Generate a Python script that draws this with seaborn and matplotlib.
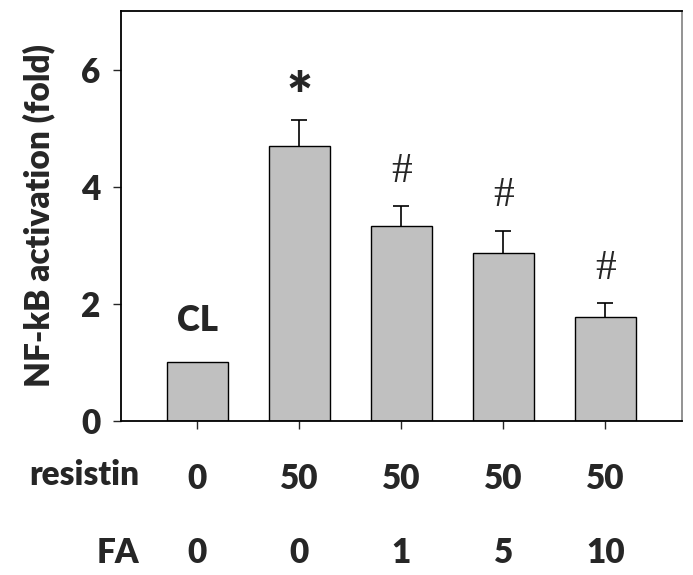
import matplotlib
matplotlib.use("Agg")
import matplotlib.pyplot as plt
import matplotlib.transforms as mtransforms
import seaborn as sns
import pandas as pd

# data
groups = ["CL", "R50", "R50+FA1", "R50+FA5", "R50+FA10"]
resistin = ["0", "50", "50", "50", "50"]
fa = ["0", "0", "1", "5", "10"]
activation = [1.00, 4.70, 3.33, 2.87, 1.77]
sem = [0.0, 0.44, 0.34, 0.38, 0.24]
marks = ["CL", "*", "#", "#", "#"]

df = pd.DataFrame({"group": groups, "activation": activation, "sem": sem})

sns.set_style("white")
plt.rcParams["font.family"] = ["Lato", "DejaVu Sans"]
plt.rcParams["font.weight"] = "heavy"

FS = 24

fig = plt.figure(figsize=(6.93, 5.75), dpi=100)
ax = fig.add_axes([0.1746, 0.2678, 0.8094, 0.7132])

sns.barplot(data=df, x="group", y="activation", order=groups,
            color="#c0c0c0", edgecolor="black", linewidth=1.0,
            width=0.6, saturation=1, ax=ax)

# upper error bars only, skip the control (no spread shown)
df["pos"] = range(len(groups))
eb = df[df["sem"] > 0]
_, caps, _ = ax.errorbar(eb["pos"], eb["activation"],
                         yerr=[[0] * len(eb), eb["sem"]],
                         fmt="none", ecolor="black", elinewidth=1.2,
                         capsize=5.5, capthick=1.2)
caps[0].set_visible(False)

# significance marks above each bar
for i, (m, a, s) in enumerate(zip(marks, activation, sem)):
    top = a + s
    if m == "CL":
        ax.annotate(m, (i, top), xytext=(0, 30), textcoords="offset points",
                    ha="center", va="center", fontsize=25, fontweight="heavy")
    elif m == "*":
        ax.annotate(m, (i, top), xytext=(0, 15), textcoords="offset points",
                    ha="center", va="center", fontsize=44, fontweight="heavy")
    else:
        ax.annotate(m, (i, top), xytext=(0, 25), textcoords="offset points",
                    ha="center", va="center", fontsize=30,
                    family="Liberation Serif", fontweight="normal")

ax.set_xlim(-0.75, 4.75)
ax.set_ylim(0, 7)
ax.set_yticks([0, 2, 4, 6])
ax.tick_params(axis="y", labelsize=FS, direction="out", length=6, width=1,
               pad=9, left=True)
ax.set_xticks(list(df["pos"]))
ax.set_xticklabels(resistin)
ax.tick_params(axis="x", labelsize=FS, direction="out", length=6, width=1,
               pad=24, bottom=True)
for lab in ax.get_xticklabels() + ax.get_yticklabels():
    lab.set_fontweight("heavy")

ax.set_xlabel("")
ax.set_ylabel("NF-kB activation (fold)", fontsize=FS, fontweight="heavy",
              labelpad=18)

# second row of treatment labels
trans = mtransforms.blended_transform_factory(ax.transData, ax.transAxes)
for i, v in enumerate(fa):
    ax.text(i, -0.322, v, transform=trans, ha="center", va="center",
            fontsize=FS, fontweight="heavy")
ax.text(-0.57, -0.132, "resistin", transform=trans, ha="right", va="center",
        fontsize=FS, fontweight="heavy")
ax.text(-0.57, -0.322, "FA", transform=trans, ha="right", va="center",
        fontsize=FS, fontweight="heavy")

for side in ["left", "bottom", "top"]:
    ax.spines[side].set_color("black")
    ax.spines[side].set_linewidth(1.3)
ax.spines["right"].set_color("#808080")
ax.spines["right"].set_linewidth(1.2)

fig.savefig("out.png", dpi=100)
